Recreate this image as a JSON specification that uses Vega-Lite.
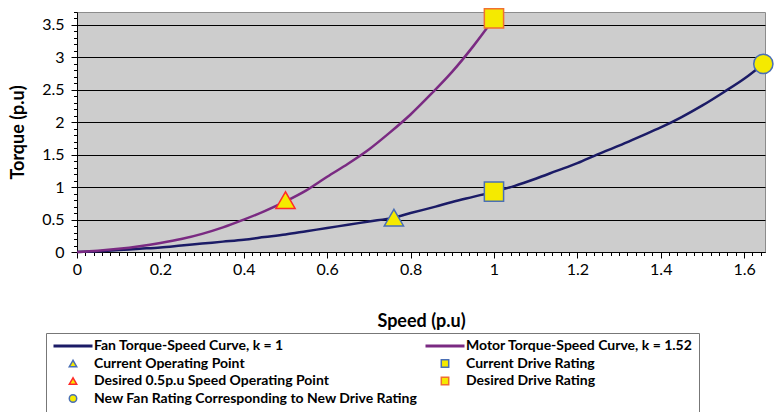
{
  "$schema": "https://vega.github.io/schema/vega-lite/v6.json",
  "width": 688,
  "height": 240,
  "autosize": "none",
  "padding": {"left": 77, "top": 12, "right": 14, "bottom": 160},
  "background": "white",
  "config": {
    "font": "Lato",
    "view": {"fill": "#cdcdcd", "stroke": "#8c8c8c", "strokeWidth": 1},
    "axis": {"labelFont": "Lato", "titleFont": "Lato", "labelColor": "black", "titleColor": "black", "tickColor": "black", "domainColor": "black"},
    "legend": {
      "orient": "none",
      "legendX": -31,
      "legendY": 321,
      "direction": "horizontal",
      "columns": 2,
      "columnPadding": 1,
      "rowPadding": 3.5,
      "padding": 6,
      "strokeColor": "#777777",
      "labelFont": "Lato",
      "labelFontSize": 14,
      "labelFontWeight": "bold",
      "labelColor": "black",
      "labelOffset": 14,
      "symbolOffset": 14,
      "labelLimit": 600,
      "symbolStrokeWidth": 1
    }
  },
  "datasets": {
    "curves": [
      {"series": "Fan Torque-Speed Curve, k = 1", "speed": 0, "torque": 0},
      {"series": "Fan Torque-Speed Curve, k = 1", "speed": 0.05, "torque": 0.01},
      {"series": "Fan Torque-Speed Curve, k = 1", "speed": 0.1, "torque": 0.03},
      {"series": "Fan Torque-Speed Curve, k = 1", "speed": 0.15, "torque": 0.05},
      {"series": "Fan Torque-Speed Curve, k = 1", "speed": 0.2, "torque": 0.07},
      {"series": "Fan Torque-Speed Curve, k = 1", "speed": 0.25, "torque": 0.1},
      {"series": "Fan Torque-Speed Curve, k = 1", "speed": 0.3, "torque": 0.13},
      {"series": "Fan Torque-Speed Curve, k = 1", "speed": 0.35, "torque": 0.16},
      {"series": "Fan Torque-Speed Curve, k = 1", "speed": 0.4, "torque": 0.19},
      {"series": "Fan Torque-Speed Curve, k = 1", "speed": 0.45, "torque": 0.23},
      {"series": "Fan Torque-Speed Curve, k = 1", "speed": 0.5, "torque": 0.27},
      {"series": "Fan Torque-Speed Curve, k = 1", "speed": 0.55, "torque": 0.32},
      {"series": "Fan Torque-Speed Curve, k = 1", "speed": 0.6, "torque": 0.37},
      {"series": "Fan Torque-Speed Curve, k = 1", "speed": 0.65, "torque": 0.42},
      {"series": "Fan Torque-Speed Curve, k = 1", "speed": 0.7, "torque": 0.47},
      {"series": "Fan Torque-Speed Curve, k = 1", "speed": 0.76, "torque": 0.53},
      {"series": "Fan Torque-Speed Curve, k = 1", "speed": 0.8, "torque": 0.6},
      {"series": "Fan Torque-Speed Curve, k = 1", "speed": 0.86, "torque": 0.7},
      {"series": "Fan Torque-Speed Curve, k = 1", "speed": 0.9, "torque": 0.77},
      {"series": "Fan Torque-Speed Curve, k = 1", "speed": 0.95, "torque": 0.85},
      {"series": "Fan Torque-Speed Curve, k = 1", "speed": 1.0, "torque": 0.93},
      {"series": "Fan Torque-Speed Curve, k = 1", "speed": 1.05, "torque": 1.02},
      {"series": "Fan Torque-Speed Curve, k = 1", "speed": 1.1, "torque": 1.13},
      {"series": "Fan Torque-Speed Curve, k = 1", "speed": 1.15, "torque": 1.25},
      {"series": "Fan Torque-Speed Curve, k = 1", "speed": 1.2, "torque": 1.37},
      {"series": "Fan Torque-Speed Curve, k = 1", "speed": 1.25, "torque": 1.51},
      {"series": "Fan Torque-Speed Curve, k = 1", "speed": 1.3, "torque": 1.64},
      {"series": "Fan Torque-Speed Curve, k = 1", "speed": 1.35, "torque": 1.78},
      {"series": "Fan Torque-Speed Curve, k = 1", "speed": 1.4, "torque": 1.92},
      {"series": "Fan Torque-Speed Curve, k = 1", "speed": 1.45, "torque": 2.08},
      {"series": "Fan Torque-Speed Curve, k = 1", "speed": 1.5, "torque": 2.26},
      {"series": "Fan Torque-Speed Curve, k = 1", "speed": 1.55, "torque": 2.46},
      {"series": "Fan Torque-Speed Curve, k = 1", "speed": 1.6, "torque": 2.67},
      {"series": "Fan Torque-Speed Curve, k = 1", "speed": 1.646, "torque": 2.9},
      {"series": "Motor Torque-Speed Curve, k = 1.52", "speed": 0, "torque": 0},
      {"series": "Motor Torque-Speed Curve, k = 1.52", "speed": 0.05, "torque": 0.02},
      {"series": "Motor Torque-Speed Curve, k = 1.52", "speed": 0.1, "torque": 0.05},
      {"series": "Motor Torque-Speed Curve, k = 1.52", "speed": 0.15, "torque": 0.09},
      {"series": "Motor Torque-Speed Curve, k = 1.52", "speed": 0.2, "torque": 0.14},
      {"series": "Motor Torque-Speed Curve, k = 1.52", "speed": 0.25, "torque": 0.2},
      {"series": "Motor Torque-Speed Curve, k = 1.52", "speed": 0.3, "torque": 0.28},
      {"series": "Motor Torque-Speed Curve, k = 1.52", "speed": 0.35, "torque": 0.38},
      {"series": "Motor Torque-Speed Curve, k = 1.52", "speed": 0.4, "torque": 0.5},
      {"series": "Motor Torque-Speed Curve, k = 1.52", "speed": 0.45, "torque": 0.63},
      {"series": "Motor Torque-Speed Curve, k = 1.52", "speed": 0.5, "torque": 0.78},
      {"series": "Motor Torque-Speed Curve, k = 1.52", "speed": 0.55, "torque": 0.95},
      {"series": "Motor Torque-Speed Curve, k = 1.52", "speed": 0.6, "torque": 1.16},
      {"series": "Motor Torque-Speed Curve, k = 1.52", "speed": 0.65, "torque": 1.36},
      {"series": "Motor Torque-Speed Curve, k = 1.52", "speed": 0.7, "torque": 1.58},
      {"series": "Motor Torque-Speed Curve, k = 1.52", "speed": 0.75, "torque": 1.84},
      {"series": "Motor Torque-Speed Curve, k = 1.52", "speed": 0.8, "torque": 2.12},
      {"series": "Motor Torque-Speed Curve, k = 1.52", "speed": 0.85, "torque": 2.44},
      {"series": "Motor Torque-Speed Curve, k = 1.52", "speed": 0.9, "torque": 2.78},
      {"series": "Motor Torque-Speed Curve, k = 1.52", "speed": 0.95, "torque": 3.17},
      {"series": "Motor Torque-Speed Curve, k = 1.52", "speed": 1.0, "torque": 3.6}
    ],
    "markers": [
      {"series": "Current Operating Point", "speed": 0.76, "torque": 0.53},
      {"series": "Current Drive Rating", "speed": 1.0, "torque": 0.93},
      {"series": "Desired 0.5p.u Speed Operating Point", "speed": 0.5, "torque": 0.8},
      {"series": "Desired Drive Rating", "speed": 1.0, "torque": 3.6},
      {"series": "New Fan Rating Corresponding to New Drive Rating", "speed": 1.646, "torque": 2.9}
    ]
  },
  "layer": [
    {
      "data": {"name": "curves"},
      "mark": {"type": "line", "strokeWidth": 2.5, "interpolate": "monotone"},
      "encoding": {
        "x": {
          "field": "speed", "type": "quantitative",
          "scale": {"domain": [0, 1.65], "nice": false, "zero": false},
          "axis": {
            "values": [0, 0.2, 0.4, 0.6, 0.8, 1, 1.2, 1.4, 1.6],
            "format": "~g", "grid": false, "tickSize": 6, "labelFontSize": 16, "labelPadding": 3,
            "title": "Speed (p.u)", "titleFontSize": 18, "titleFontWeight": "bold", "titlePadding": 35, "labelFlush": false
          }
        },
        "y": {
          "field": "torque", "type": "quantitative",
          "scale": {"domain": [0, 3.7], "nice": false, "zero": true},
          "axis": {
            "values": [0, 0.5, 1, 1.5, 2, 2.5, 3, 3.5],
            "format": "~g", "grid": true, "gridColor": "black", "gridWidth": 1, "gridOpacity": 1,
            "tickSize": 6, "labelFontSize": 16, "labelPadding": 7,
            "title": "Torque (p.u)", "titleFontSize": 18, "titleFontWeight": "bold", "titlePadding": 14, "labelFlush": false
          }
        },
        "stroke": {
          "field": "series", "type": "nominal",
          "scale": {
            "domain": ["Fan Torque-Speed Curve, k = 1", "Motor Torque-Speed Curve, k = 1.52", "Current Operating Point", "Current Drive Rating", "Desired 0.5p.u Speed Operating Point", "Desired Drive Rating", "New Fan Rating Corresponding to New Drive Rating"],
            "range": ["#1b1b66", "#7a2a82", "#4a6fb5", "#4a6fb5", "#ff2a2a", "#f07030", "#4a6fb5"]
          },
          "legend": {
            "title": null,
            "direction": "horizontal",
            "columns": 2,
            "labelExpr": "datum.index == 1 ? datum.label + '                              ' : datum.label",
            "encode": {
              "symbols": {"update": {
                "size": {"signal": "(datum.value == 'Fan Torque-Speed Curve, k = 1' || datum.value == 'Motor Torque-Speed Curve, k = 1.52') ? 1521 : 55"},
                "strokeWidth": {"signal": "(datum.value == 'Fan Torque-Speed Curve, k = 1' || datum.value == 'Motor Torque-Speed Curve, k = 1.52') ? 3 : 1.5"}
              }}
            }
          }
        }
      }
    },
    {
      "data": {"name": "markers"},
      "mark": {"type": "point", "filled": true, "opacity": 1, "strokeWidth": 1.5, "size": 370},
      "encoding": {
        "x": {
          "field": "speed", "type": "quantitative",
          "axis": {
            "orient": "bottom", "values": [0.02,0.04,0.06,0.08,0.1,0.12,0.14,0.16,0.18,0.22,0.24,0.26,0.28,0.3,0.32,0.34,0.36,0.38,0.42,0.44,0.46,0.48,0.5,0.52,0.54,0.56,0.58,0.62,0.64,0.66,0.68,0.7,0.72,0.74,0.76,0.78,0.82,0.84,0.86,0.88,0.9,0.92,0.94,0.96,0.98,1.02,1.04,1.06,1.08,1.1,1.12,1.14,1.16,1.18,1.22,1.24,1.26,1.28,1.3,1.32,1.34,1.36,1.38,1.42,1.44,1.46,1.48,1.5,1.52,1.54,1.56,1.58,1.62,1.64],
            "labels": false, "domain": false, "grid": false, "tickSize": 3.5, "title": null
          }
        },
        "y": {
          "field": "torque", "type": "quantitative",
          "axis": {
            "orient": "left", "values": [0.1,0.2,0.3,0.4,0.6,0.7,0.8,0.9,1.1,1.2,1.3,1.4,1.6,1.7,1.8,1.9,2.1,2.2,2.3,2.4,2.6,2.7,2.8,2.9,3.1,3.2,3.3,3.4,3.6,3.7],
            "labels": false, "domain": false, "grid": false, "tickSize": 3.5, "title": null
          }
        },
        "stroke": {"field": "series", "type": "nominal", "legend": {"title": null, "direction": "horizontal", "columns": 2}},
        "fill": {
          "field": "series", "type": "nominal",
          "scale": {
            "domain": ["Fan Torque-Speed Curve, k = 1", "Motor Torque-Speed Curve, k = 1.52", "Current Operating Point", "Current Drive Rating", "Desired 0.5p.u Speed Operating Point", "Desired Drive Rating", "New Fan Rating Corresponding to New Drive Rating"],
            "range": ["transparent", "transparent", "#f5ea00", "#f5ea00", "#f5ea00", "#f5ea00", "#f5ea00"]
          },
          "legend": {"title": null, "direction": "horizontal", "columns": 2}
        },
        "shape": {
          "field": "series", "type": "nominal",
          "scale": {
            "domain": ["Fan Torque-Speed Curve, k = 1", "Motor Torque-Speed Curve, k = 1.52", "Current Operating Point", "Current Drive Rating", "Desired 0.5p.u Speed Operating Point", "Desired Drive Rating", "New Fan Rating Corresponding to New Drive Rating"],
            "range": ["M-1,0H1", "M-1,0H1", "triangle-up", "square", "triangle-up", "square", "circle"]
          },
          "legend": {"title": null, "direction": "horizontal", "columns": 2}
        }
      }
    }
  ],
  "resolve": {"axis": {"x": "independent", "y": "independent"}}
}
